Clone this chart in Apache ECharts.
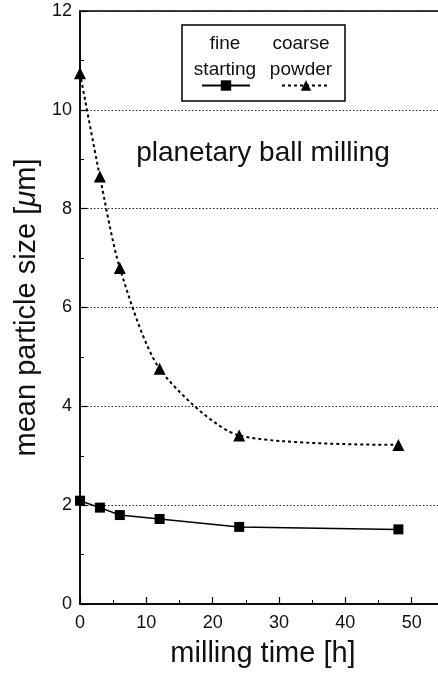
<!DOCTYPE html>
<html>
<head>
<meta charset="utf-8">
<script src="https://cdn.jsdelivr.net/npm/echarts@6/dist/echarts.min.js"></script>
<style>
html,body{margin:0;padding:0;background:#fff;}
#chart{width:438px;height:674px;}
</style>
</head>
<body>
<div id="chart"></div>
<script>
// ---- data ----
const millingTime = [0, 3, 6, 12, 24, 48];            // h
const fineStarting = [2.09, 1.95, 1.80, 1.72, 1.56, 1.51];   // µm
const coarsePowder = [10.74, 8.65, 6.80, 4.76, 3.41, 3.22];  // µm
const seriesNames = ['fine starting', 'coarse powder'];
const legendLines = [['fine', 'starting'], ['coarse', 'powder']];
const xTickValues = [0, 10, 20, 30, 40, 50];
const yTickValues = [0, 2, 4, 6, 8, 10, 12];
const annotation = 'planetary ball milling';
const xName = 'milling time [h]';

const FONT = "'Liberation Sans', Arial, Helvetica, sans-serif";
const pairs = (xs, ys) => xs.map((x, i) => [x, ys[i]]);

const chart = echarts.init(document.getElementById('chart'), null, {renderer: 'canvas'});

const legendBase = {
  orient: 'horizontal', top: 79, padding: 0, itemWidth: 48, itemHeight: 13,
  selectedMode: false, formatter: () => '', textStyle: {fontSize: 1}
};

chart.setOption({
  backgroundColor: '#fff',
  animation: false,
  grid: {
    left: 80, width: 398, top: 11, bottom: 70,
    outerBoundsMode: 'none', containLabel: false,
    show: true, borderColor: '#000', borderWidth: 1.5, backgroundColor: 'transparent'
  },
  legend: [
    Object.assign({}, legendBase, {data: [seriesNames[0]], left: 201}),
    Object.assign({}, legendBase, {data: [seriesNames[1]], left: 281})
  ],
  xAxis: {
    type: 'value', min: 0, max: 60, interval: 10,
    name: xName, nameLocation: 'middle', nameGap: 35,
    nameTextStyle: {fontFamily: FONT, fontSize: 29, color: '#111', padding: [0, 32, 0, 0]},
    axisLine: {show: true, lineStyle: {color: '#000', width: 1.5}},
    axisTick: {show: true, inside: true, length: 7, lineStyle: {color: '#000', width: 1.2}},
    minorTick: {show: true, splitNumber: 2, length: 4, lineStyle: {color: '#000', width: 1}},
    axisLabel: {
      fontFamily: FONT, fontSize: 18, color: '#111', margin: 10,
      formatter: v => (xTickValues.indexOf(v) >= 0 ? String(v) : '')
    },
    splitLine: {show: false}
  },
  yAxis: {
    type: 'value', min: 0, max: 12, interval: 2,
    name: 'mean particle size [{mu|μ}m]', nameLocation: 'middle', nameGap: 36, nameRotate: 90,
    nameTextStyle: {
      fontFamily: FONT, fontSize: 29, color: '#111',
      rich: {mu: {fontFamily: FONT, fontSize: 29, fontStyle: 'italic', color: '#111'}}
    },
    axisLine: {show: true, lineStyle: {color: '#000', width: 1.5}},
    axisTick: {show: true, inside: true, length: 7, lineStyle: {color: '#000', width: 1.2}},
    minorTick: {show: true, splitNumber: 2, length: 4, lineStyle: {color: '#000', width: 1}},
    axisLabel: {
      fontFamily: FONT, fontSize: 18, color: '#111', margin: 8,
      formatter: v => (yTickValues.indexOf(v) >= 0 ? String(v) : '')
    },
    splitLine: {show: true, lineStyle: {color: '#222', width: 1, type: [1.5, 2]}}
  },
  graphic: [
    {type: 'rect', shape: {x: 182, y: 25, width: 163, height: 76},
     style: {fill: 'transparent', stroke: '#000', lineWidth: 1.5}, z: 10},
    {type: 'text', x: 225, y: 44, style: {text: legendLines[0][0], fontFamily: FONT, fontSize: 19, fill: '#111', textAlign: 'center', textVerticalAlign: 'middle'}, z: 10},
    {type: 'text', x: 225, y: 70, style: {text: legendLines[0][1], fontFamily: FONT, fontSize: 19, fill: '#111', textAlign: 'center', textVerticalAlign: 'middle'}, z: 10},
    {type: 'text', x: 301, y: 44, style: {text: legendLines[1][0], fontFamily: FONT, fontSize: 19, fill: '#111', textAlign: 'center', textVerticalAlign: 'middle'}, z: 10},
    {type: 'text', x: 301, y: 70, style: {text: legendLines[1][1], fontFamily: FONT, fontSize: 19, fill: '#111', textAlign: 'center', textVerticalAlign: 'middle'}, z: 10},
    {type: 'text', x: 263, y: 153, style: {text: annotation, fontFamily: FONT, fontSize: 28, fill: '#111', textAlign: 'center', textVerticalAlign: 'middle'}, z: 10}
  ],
  series: [
    {
      name: seriesNames[0], type: 'line', data: pairs(millingTime, fineStarting),
      symbol: 'rect', symbolSize: 10, showAllSymbol: true,
      lineStyle: {color: '#000', width: 1.5, type: 'solid'},
      itemStyle: {color: '#000'}
    },
    {
      name: seriesNames[1], type: 'line', data: pairs(millingTime, coarsePowder),
      symbol: 'triangle', symbolSize: 12, showAllSymbol: true,
      smooth: 0.25,
      lineStyle: {color: '#000', width: 2, type: [3, 3]},
      itemStyle: {color: '#000'}
    }
  ]
});
</script>
</body>
</html>
